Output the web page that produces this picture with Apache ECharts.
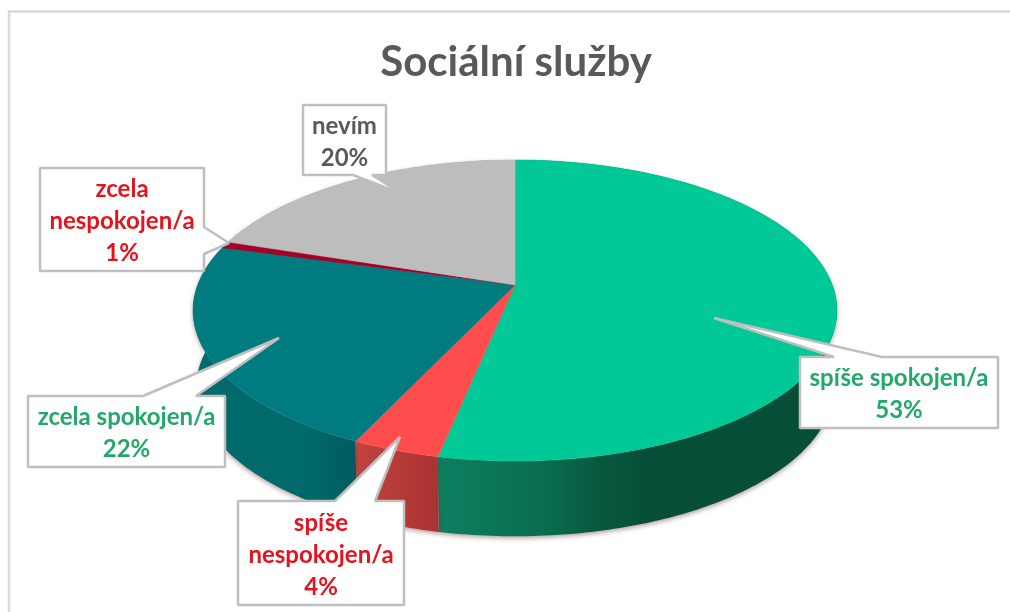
<!DOCTYPE html>
<html>
<head>
<meta charset="utf-8">
<style>
  html, body { margin: 0; padding: 0; background: #fff; }
  #chart { width: 1010px; height: 612px; }
</style>
<script src="https://cdn.jsdelivr.net/npm/echarts@6/dist/echarts.min.js"></script>
</head>
<body>
<div id="chart"></div>
<script>
// data, clockwise from 12 o'clock (labels show them rounded)
const categories = ['spíše spokojen/a', 'spíše nespokojen/a', 'zcela spokojen/a', 'zcela nespokojen/a', 'nevím'];
const percents = [53.25, 3.75, 22.3, 0.7, 20];

// styles
const topColors = ['#00c896', '#ff4d4d', '#007b7f', '#a5002a', '#bdbdbd'];
const sideStops = [
  [[0, '#0d7f60'], [0.26, '#0a6e50'], [0.39, '#065a40'], [0.52, '#064e37'], [1, '#064e37']],
  [[0, '#c2443f'], [1, '#a93232']],
  [[0, '#006b6e'], [0.7, '#00696c'], [1, '#005a5e']],
  [[0, '#7a0020'], [1, '#7a0020']],
  [[0, '#8f8f8f'], [1, '#8f8f8f']]
];
const labelColors = ['#22a868', '#e3141e', '#22a868', '#e3141e', '#595959'];

// callout boxes: box [x0, y0, x1, y1], tail [base, tip, base] on the box edge
const callouts = [
  { box: [800, 357, 998, 428], tail: [[882, 357], [714, 318], [834, 357]], wrap: false },
  { box: [238, 501, 404, 605], tail: [[375, 501], [400, 437], [335, 501]], wrap: true },
  { box: [28, 396, 225, 467], tail: [[196, 396], [279, 338], [143, 396]], wrap: false },
  { box: [40, 168, 204, 271], tail: [[204, 227], [229, 243], [204, 254]], wrap: true },
  { box: [303, 105, 386, 175], tail: [[372, 175], [400, 193], [353, 175]], wrap: false }
];

// pie projected with perspective: unit circle -> screen
const CX = 515, CY = 285, A = 317.3, B = 146.2, K = 0.1694;
const DEPTH = 77, BOTTOM_SCALE = 0.99;

function project(pct, bottom) {
  const t = pct / 100 * Math.PI * 2;
  const u = Math.sin(t), v = Math.cos(t);
  const d = 1 + K * v;
  const s = bottom ? BOTTOM_SCALE : 1;
  return [CX + s * A * u / d, CY + (bottom ? DEPTH : 0) - s * B * v / d];
}

function rim(from, to, bottom) {
  const pts = [];
  const n = Math.max(2, Math.ceil((to - from) * 4));
  for (let i = 0; i <= n; i++) pts.push(project(from + (to - from) * i / n, bottom));
  return pts;
}

const starts = [];
percents.reduce((sum, p, i) => { starts[i] = sum; return sum + p; }, 0);

const sliceData = percents.map((p, i) => ({ name: categories[i], value: p }));
const labelData = percents.map((p, i) => ({ name: categories[i], value: Math.round(p) }));

function renderSide(params, api) {
  const i = params.dataIndex;
  const from = starts[i], to = from + api.value(0);
  const top = rim(from, to, false);
  const bottom = rim(from, to, true).reverse();
  const all = top.concat(bottom);
  const xs = all.map(q => q[0]);
  return {
    type: 'polygon',
    shape: { points: all },
    style: {
      fill: {
        type: 'linear', global: true,
        x: Math.min.apply(null, xs), y: 0, x2: Math.max.apply(null, xs), y2: 0,
        colorStops: sideStops[i].map(s => ({ offset: s[0], color: s[1] }))
      },
      shadowBlur: 5,
      shadowOffsetY: 2,
      shadowColor: 'rgba(90,40,40,0.45)'
    }
  };
}

function renderTop(params, api) {
  const i = params.dataIndex;
  const from = starts[i], to = from + api.value(0);
  const pts = [[CX, CY]].concat(rim(from, to, false));
  return {
    type: 'polygon',
    shape: { points: pts },
    style: { fill: topColors[i], stroke: topColors[i], lineWidth: 0.5 }
  };
}

function renderLabel(params, api) {
  const i = params.dataIndex;
  const c = callouts[i];
  const [x0, y0, x1, y1] = c.box;
  // walk the box clockwise and put the tail in on its own edge
  const t = c.tail;
  let pts;
  if (t[0][1] === y0 && t[2][1] === y0) {
    pts = [[x0, y0], [t[2][0], y0], t[1], [t[0][0], y0], [x1, y0], [x1, y1], [x0, y1]];
  } else if (t[0][0] === x1) {
    pts = [[x0, y0], [x1, y0], t[0], t[1], t[2], [x1, y1], [x0, y1]];
  } else {
    pts = [[x0, y0], [x1, y0], [x1, y1], t[0], t[1], t[2], [x0, y1]];
  }
  const name = c.wrap ? categories[i].replace(' ', '\n') : categories[i];
  return {
    type: 'group',
    children: [{
      type: 'polygon',
      shape: { points: pts },
      // bevel so the sharp tail tips don't shoot past the target point
      style: { fill: '#fff', stroke: '#bfbfbf', lineWidth: 2.5, lineJoin: 'bevel' }
    }, {
      type: 'text',
      style: {
        text: name + '\n' + api.value(0) + '%',
        x: (x0 + x1) / 2,
        y: (y0 + y1) / 2 + 2,
        align: 'center',
        verticalAlign: 'middle',
        fill: labelColors[i],
        font: 'bold 24px Lato',
        lineHeight: 32
      }
    }]
  };
}

const myChart = echarts.init(document.getElementById('chart'), null, { renderer: 'canvas' });

myChart.setOption({
  animation: false,
  backgroundColor: '#fff',
  title: {
    text: 'Sociální služby',
    left: 511,
    top: 36,
    textAlign: 'center',
    textStyle: { color: '#595959', fontFamily: 'Lato', fontWeight: 'bold', fontSize: 42 }
  },
  graphic: [{
    type: 'polyline',
    shape: { points: [[9, 612], [9, 11.5], [1010, 11.5]] },
    style: { stroke: '#d9d9d9', lineWidth: 2.5, fill: null },
    silent: true
  }],
  series: [
    { type: 'custom', coordinateSystem: 'none', z: 1, silent: true, renderItem: renderSide, data: sliceData },
    { type: 'custom', coordinateSystem: 'none', z: 2, silent: true, renderItem: renderTop, data: sliceData },
    { type: 'custom', coordinateSystem: 'none', z: 3, silent: true, renderItem: renderLabel, data: labelData }
  ]
});

window.addEventListener('resize', () => {
  myChart.resize();
});
</script>
</body>
</html>
